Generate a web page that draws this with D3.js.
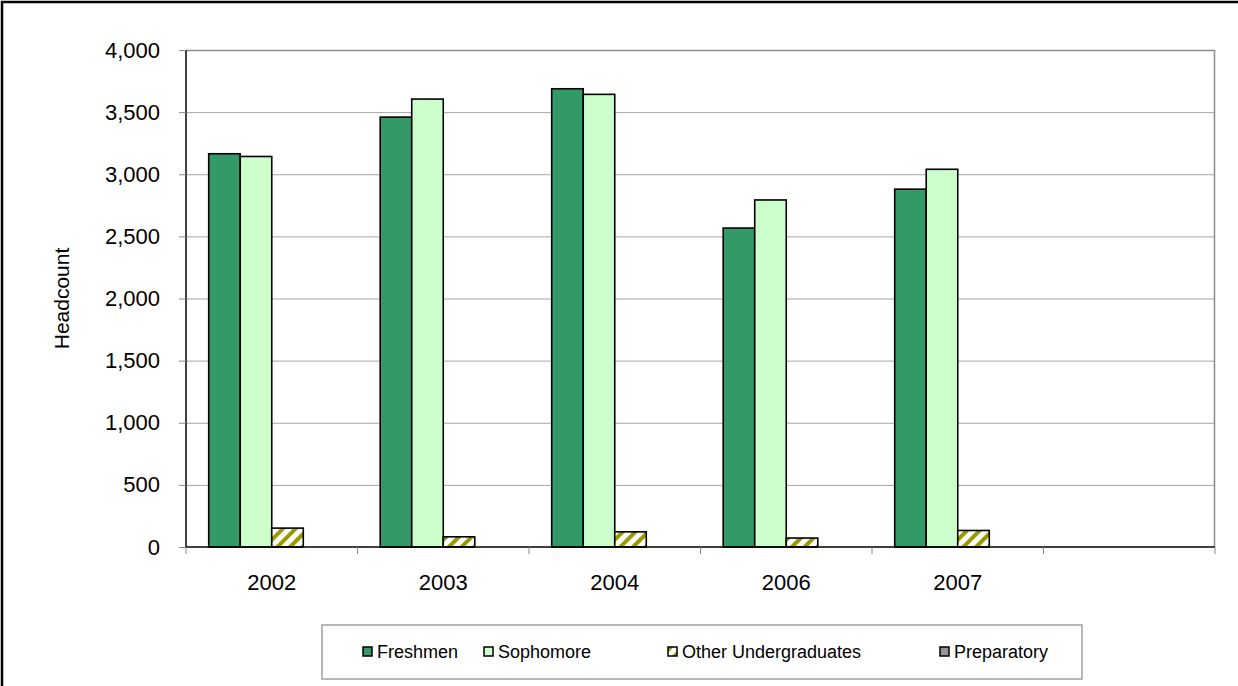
<!DOCTYPE html>
<html>
<head>
<meta charset="utf-8">
<script src="https://cdn.jsdelivr.net/npm/d3@7"></script>
<style>
  body { margin: 0; background: #fff; }
  svg { display: block; font-family: Arial, "Liberation Sans", sans-serif; }
</style>
</head>
<body>
<svg class="barchart" width="1238" height="686"></svg>
<script>
// chart data
var years = ["2002", "2003", "2004", "2006", "2007", ""];
var seriesNames = ["Freshmen", "Sophomore", "Other Undergraduates", "Preparatory"];
var freshmen = [3165, 3460, 3688, 2567, 2880];
var sophomore = [3143, 3605, 3643, 2793, 3040];
var otherUndergrad = [152, 82, 122, 72, 133];
var preparatory = [0, 0, 0, 0, 0];
var yTicks = [0, 500, 1000, 1500, 2000, 2500, 3000, 3500, 4000];

(function barChartIIFE() {
    var svg = d3.select("svg.barchart"),
        margin = {top: 50, right: 23, bottom: 139, left: 186},
        width = +svg.attr("width") - margin.left - margin.right,
        height = +svg.attr("height") - margin.top - margin.bottom;

    var colours = ["#339966", "#ccffcc", "url(#hatch)", "#969696"];
    var values = [freshmen, sophomore, otherUndergrad, preparatory];

    // hatch pattern for "Other Undergraduates"
    var defs = svg.append("defs");
    var pat = defs.append("pattern")
        .attr("id", "hatch")
        .attr("patternUnits", "userSpaceOnUse")
        .attr("width", 9)
        .attr("height", 9)
        .attr("patternTransform", "rotate(45)");
    pat.append("rect").attr("width", 9).attr("height", 9).attr("fill", "#fff");
    pat.append("rect").attr("width", 4).attr("height", 9).attr("fill", "#999900");

    // outer chart border
    svg.append("rect")
        .attr("x", 2).attr("y", 2)
        .attr("width", 1300).attr("height", 800)
        .attr("fill", "none")
        .attr("stroke", "#000")
        .attr("stroke-width", 2.5);

    var g = svg.append("g").attr("transform", "translate(" + margin.left + "," + margin.top + ")");

    var x0 = d3.scaleBand().domain(years).range([0, width]).padding(0);
    var x1 = d3.scaleBand().domain(seriesNames).range([0, x0.bandwidth()])
        .paddingInner(0).paddingOuter(0.72);
    var y = d3.scaleLinear().domain([0, 4000]).range([height, 0]);

    // gridlines
    g.append("g")
        .selectAll("line")
        .data(yTicks.slice(1))
        .enter().append("line")
        .attr("x1", 0).attr("x2", width)
        .attr("y1", function(d) { return y(d) + 0.5; })
        .attr("y2", function(d) { return y(d) + 0.5; })
        .attr("stroke", "#a6a6a6")
        .attr("stroke-width", 1);

    // plot area border (top, right)
    g.append("path")
        .attr("d", "M0,0.5H" + (width - 0.5) + "V" + height)
        .attr("fill", "none")
        .attr("stroke", "#8c8c8c")
        .attr("stroke-width", 1.5);

    // bars
    var groups = g.append("g")
        .selectAll("g")
        .data(years.filter(function(d) { return d !== ""; }))
        .enter().append("g")
        .attr("transform", function(d) { return "translate(" + x0(d) + ",0)"; });

    groups.selectAll("rect")
        .data(function(d, i) {
            return seriesNames.map(function(s, j) { return {key: s, value: values[j][i], idx: j}; });
        })
        .enter().append("rect")
        .filter(function(d) { return d.value > 0; })
        .attr("x", function(d) { return x1(d.key); })
        .attr("y", function(d) { return y(d.value); })
        .attr("width", x1.bandwidth())
        .attr("height", function(d) { return height - y(d.value); })
        .attr("fill", function(d) { return colours[d.idx]; })
        .attr("stroke", "#000")
        .attr("stroke-width", 1.6);

    // y axis
    var yAxis = g.append("g")
        .call(d3.axisLeft(y).tickValues(yTicks).tickSize(7).tickPadding(19)
            .tickFormat(d3.format(",")));
    yAxis.select(".domain").attr("stroke", "#000").attr("stroke-width", 1.5).attr("d", "M0,0V" + height);
    yAxis.selectAll(".tick line").attr("stroke", "#888");
    yAxis.selectAll("text").attr("font-size", 22).attr("fill", "#000")
        .attr("font-family", "Arial, 'Liberation Sans', sans-serif");

    // x axis
    var xAxis = g.append("g")
        .attr("transform", "translate(0," + height + ")")
        .call(d3.axisBottom(x0).tickSize(0).tickPadding(27));
    xAxis.select(".domain").attr("stroke", "#000").attr("stroke-width", 1.5).attr("d", "M0,0H" + width);
    xAxis.selectAll("text").attr("font-size", 22).attr("fill", "#000")
        .attr("font-family", "Arial, 'Liberation Sans', sans-serif");

    // category boundary ticks
    xAxis.append("g")
        .selectAll("line")
        .data(years.concat(["end"]))
        .enter().append("line")
        .attr("x1", function(d, i) { return i * x0.step(); })
        .attr("x2", function(d, i) { return i * x0.step(); })
        .attr("y1", 0).attr("y2", 7)
        .attr("stroke", "#888");

    // axis title
    svg.append("text")
        .attr("transform", "translate(69," + (margin.top + height / 2) + ") rotate(-90)")
        .attr("text-anchor", "middle")
        .attr("font-size", 21)
        .text("Headcount");

    // legend
    var legend = svg.append("g").attr("transform", "translate(322,625)");
    legend.append("rect")
        .attr("width", 760).attr("height", 54)
        .attr("fill", "#fff")
        .attr("stroke", "#a0a0a0")
        .attr("stroke-width", 1.5);

    var legendX = [41, 162, 346, 618];
    var items = legend.selectAll("g.item")
        .data(seriesNames)
        .enter().append("g")
        .attr("class", "item")
        .attr("transform", function(d, i) { return "translate(" + legendX[i] + ",22)"; });
    items.append("rect")
        .attr("width", 9).attr("height", 9)
        .attr("fill", function(d, i) { return colours[i]; })
        .attr("stroke", "#000")
        .attr("stroke-width", 1.5);
    items.append("text")
        .attr("x", 14).attr("y", 11)
        .attr("font-size", 18)
        .text(function(d) { return d; });
})();
</script>
</body>
</html>
